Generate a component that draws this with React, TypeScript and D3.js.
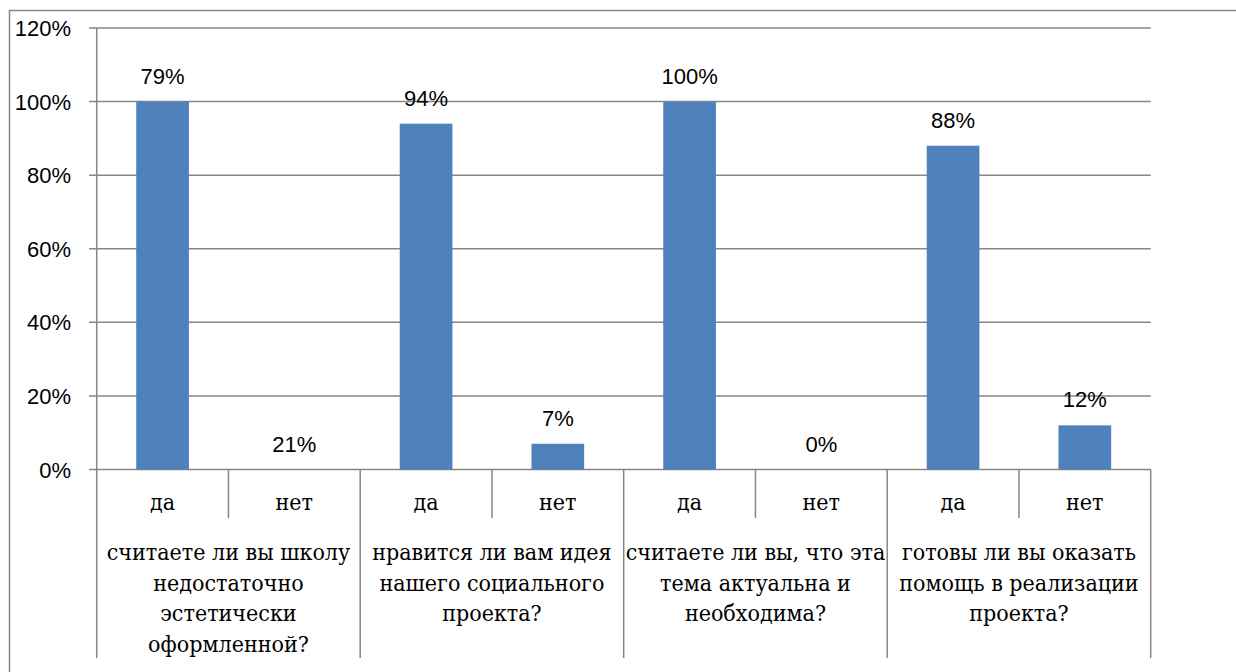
import React from "react";
import * as d3 from "d3";

const subCategories = ["да", "нет"];
const groupLabels: string[][] = [
  ["считаете ли вы школу", "недостаточно", "эстетически", "оформленной?"],
  ["нравится ли вам идея", "нашего социального", "проекта?"],
  ["считаете ли вы, что эта", "тема актуальна и", "необходима?"],
  ["готовы ли вы оказать", "помощь в реализации", "проекта?"],
];
const barValues = [100, 0, 94, 7, 100, 0, 88, 12];
const dataLabels = ["79%", "21%", "94%", "7%", "100%", "0%", "88%", "12%"];
const yTicks = [0, 20, 40, 60, 80, 100, 120];

const W = 1236;
const H = 672;
const left = 96.7;
const right = 1150.7;
const top = 28;
const bottom = 469.5;

export default function App() {
  const keys = barValues.map((_, i) => String(i));
  const x = d3.scaleBand<string>().domain(keys).range([left, right]).paddingInner(0.6).paddingOuter(0.3);
  const slot = d3.scaleBand<string>().domain(keys).range([left, right]);
  const y = d3.scaleLinear().domain([0, 120]).range([bottom, top]);
  const grid = "#868686";
  const sans = "'Liberation Sans', Arial, sans-serif";
  const serif = "'DejaVu Serif Condensed', 'DejaVu Serif', serif";
  const groupW = (right - left) / groupLabels.length;

  return (
    <svg width={W} height={H} style={{ position: "absolute", left: 0, top: 0, background: "#fff" }}>
      <rect x={9.5} y={10.5} width={1400} height={800} fill="none" stroke={grid} strokeWidth={1.5} />
      {yTicks.map((t) => (
        <g key={t}>
          <line x1={89} x2={right} y1={y(t)} y2={y(t)} stroke={grid} strokeWidth={1.5} />
          <text x={71} y={y(t) + 8} textAnchor="end" fontFamily={sans} fontSize={22} fill="#000">
            {t}%
          </text>
        </g>
      ))}
      <line x1={left} x2={left} y1={top} y2={658} stroke={grid} strokeWidth={1.5} />
      {barValues.map((v, i) => (
        <g key={i}>
          <rect x={x(String(i))} y={y(v)} width={x.bandwidth()} height={bottom - y(v)} fill="#4F81BD" />
          <text
            x={(x(String(i)) as number) + x.bandwidth() / 2}
            y={y(v) - 18}
            textAnchor="middle"
            fontFamily={sans}
            fontSize={22}
            fill="#000"
          >
            {dataLabels[i]}
          </text>
          <text
            x={(slot(String(i)) as number) + slot.bandwidth() / 2}
            y={510}
            textAnchor="middle"
            fontFamily={serif}
            fontSize={23}
            fill="#000"
          >
            {subCategories[i % 2]}
          </text>
          {i > 0 && (
            <line
              x1={slot(String(i))}
              x2={slot(String(i))}
              y1={bottom}
              y2={i % 2 === 0 ? 658 : 518}
              stroke={grid}
              strokeWidth={1.5}
            />
          )}
        </g>
      ))}
      <line x1={right} x2={right} y1={bottom} y2={658} stroke={grid} strokeWidth={1.5} />
      {groupLabels.map((lines, g) => (
        <text key={g} textAnchor="middle" fontFamily={serif} fontSize={23} fill="#000">
          {lines.map((l, j) => (
            <tspan key={j} x={left + groupW * (g + 0.5)} y={560 + j * 30.5}>
              {l}
            </tspan>
          ))}
        </text>
      ))}
    </svg>
  );
}
